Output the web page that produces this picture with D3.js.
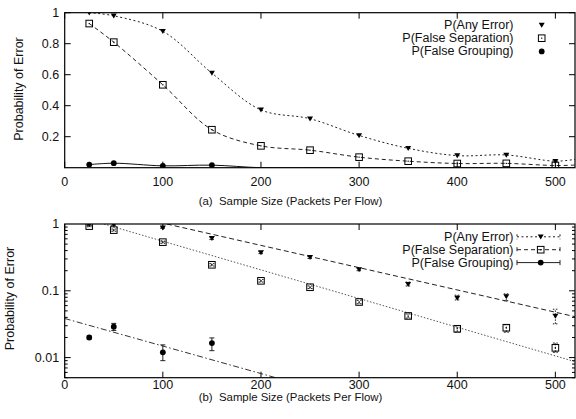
<!DOCTYPE html>
<html>
<head>
<meta charset="utf-8">
<script src="https://cdn.jsdelivr.net/npm/d3@7"></script>
<style>
  html, body { margin: 0; padding: 0; background: #fff; }
  svg { display: block; font-family: "Liberation Sans", Arial, Helvetica, sans-serif; }
</style>
</head>
<body>
<div id="chart"></div>
<script>
// Sample sizes (packets per flow)
var sizes = [25, 50, 100, 150, 200, 250, 300, 350, 400, 450, 500];

// Measured error probabilities
var anyErr     = [1.0, 0.98, 0.88, 0.61, 0.373, 0.316, 0.208, 0.125, 0.078, 0.082, 0.042];
var falseSep   = [0.93, 0.81, 0.535, 0.245, 0.141, 0.113, 0.068, 0.042, 0.027, 0.028, 0.014];
var falseGroup = [0.020, 0.029, 0.012, 0.0165, 0, 0, 0, 0, 0, 0, 0];

// Error bar bounds (plot b)
var anyLo   = [0.98, 0.95, 0.86, 0.585, 0.36, 0.305, 0.2, 0.118, 0.073, 0.071, 0.032];
var anyHi   = [1.02, 1.01, 0.9, 0.635, 0.39, 0.327, 0.217, 0.135, 0.086, 0.09, 0.053];
var sepLo   = [0.91, 0.78, 0.515, 0.235, 0.135, 0.108, 0.064, 0.039, 0.024, 0.024, 0.012];
var sepHi   = [0.95, 0.84, 0.555, 0.255, 0.148, 0.118, 0.072, 0.045, 0.03, 0.031, 0.0165];
var groupLo = [0.019, 0.0255, 0.009, 0.0127, 0, 0, 0, 0, 0, 0, 0];
var groupHi = [0.021, 0.0325, 0.0155, 0.0197, 0, 0, 0, 0, 0, 0, 0];

// where the smoothed curves of plot (a) leave the right border
var tailX = 520;
var anyTail = 0.054, sepTail = 0.017, groupTail = 0;

// exponential fits of plot (b), as end points [size, probability]
var fitAny   = [[104, 1], [520, 0.041]];
var fitSep   = [[40, 1], [520, 0.0087]];
var fitGroup = [[0, 0.0385], [215, 0.005]];

var seriesNames = ["P(Any Error)", "P(False Separation)", "P(False Grouping)"];
var linearTicks = [0.2, 0.4, 0.6, 0.8, 1];
var logTicks = [0.01, 0.1, 1];
var xTicks = [0, 100, 200, 300, 400, 500];

var width = 576, height = 419;
var left = 64.7, right = 575;
var fontSize = 12.5;

var svg = d3.select("#chart").append("svg")
    .attr("width", width)
    .attr("height", height)
    .attr("viewBox", [0, 0, width, height]);

var x = d3.scaleLinear().domain([0, 520]).range([left, right]);

function dashFor(i) {
  return i === 0 ? "2,2.5" : (i === 1 ? "4,3" : null);
}

function drawMarker(g, i, cx, cy) {
  if (i === 0) {
    g.append("path")
      .attr("d", "M" + (cx - 3) + "," + (cy - 2.3) + "L" + (cx + 3) + "," + (cy - 2.3) + "L" + cx + "," + (cy + 2.7) + "Z")
      .attr("fill", "#000");
  } else if (i === 1) {
    g.append("rect")
      .attr("x", cx - 3.3).attr("y", cy - 3.3)
      .attr("width", 6.6).attr("height", 6.6)
      .attr("fill", "none").attr("stroke", "#000").attr("stroke-width", 1);
    g.append("rect")
      .attr("x", cx - 0.6).attr("y", cy - 0.6)
      .attr("width", 1.2).attr("height", 1.2)
      .attr("fill", "#000");
  } else {
    g.append("circle")
      .attr("cx", cx).attr("cy", cy).attr("r", 2.9)
      .attr("fill", "#000");
  }
}

function frame(top, bottom, id, labelOffset) {
  svg.append("clipPath").attr("id", id)
    .append("rect")
      .attr("x", left).attr("y", top)
      .attr("width", right - left).attr("height", bottom - top);

  // x ticks, bottom and mirrored on top
  var gx = svg.append("g").attr("stroke", "#000").attr("stroke-width", 1);
  xTicks.forEach(function(t) {
    gx.append("line").attr("x1", x(t)).attr("x2", x(t)).attr("y1", bottom).attr("y2", bottom - 6);
    gx.append("line").attr("x1", x(t)).attr("x2", x(t)).attr("y1", top).attr("y2", top + 6);
  });
  svg.append("g")
      .attr("font-size", fontSize)
      .attr("text-anchor", "middle")
      .attr("fill", "#111")
    .selectAll("text")
    .data(xTicks)
    .join("text")
      .attr("x", function(d) { return x(d); })
      .attr("y", bottom + labelOffset)
      .attr("dominant-baseline", "central")
      .text(function(d) { return d; });
}

function border(top, bottom) {
  svg.append("rect")
    .attr("x", left).attr("y", top)
    .attr("width", right - left).attr("height", bottom - top)
    .attr("fill", "none").attr("stroke", "#000").attr("stroke-width", 1.2);
}

function yLabel(cx, cy) {
  svg.append("text")
    .attr("transform", "translate(" + cx + "," + cy + ") rotate(-90)")
    .attr("text-anchor", "middle")
    .attr("dominant-baseline", "central")
    .attr("font-size", fontSize)
    .attr("fill", "#111")
    .text("Probability of Error");
}

function xLabel(tag, cy) {
  svg.append("text")
    .attr("x", 290.5)
    .attr("y", cy)
    .attr("text-anchor", "middle")
    .attr("dominant-baseline", "central")
    .attr("font-size", 11.4)
    .attr("fill", "#111")
    .attr("xml:space", "preserve")
    .text(tag + "  Sample Size (Packets Per Flow)");
}

// ---------------- plot (a): linear ----------------
var topA = 12.7, botA = 167.7;
var yA = d3.scaleLinear().domain([0, 1]).range([botA, topA]);

frame(topA, botA, "clipA", 14.3);

var gyA = svg.append("g").attr("stroke", "#000");
linearTicks.forEach(function(t) {
  gyA.append("line").attr("x1", left).attr("x2", left + 6).attr("y1", yA(t)).attr("y2", yA(t));
  gyA.append("line").attr("x1", right).attr("x2", right - 6).attr("y1", yA(t)).attr("y2", yA(t));
});
svg.append("g")
    .attr("font-size", fontSize)
    .attr("text-anchor", "end")
    .attr("fill", "#111")
  .selectAll("text")
  .data(linearTicks)
  .join("text")
    .attr("x", left - 5.5)
    .attr("y", function(d) { return yA(d); })
    .attr("dominant-baseline", "central")
    .text(function(d) { return d; });

var seriesA = [anyErr, falseSep, falseGroup];
var tailsA = [anyTail, sepTail, groupTail];

var lineA = d3.line()
    .x(function(d) { return x(d[0]); })
    .y(function(d) { return yA(d[1]); })
    .curve(d3.curveCatmullRom.alpha(0.5));

var plotA = svg.append("g").attr("clip-path", "url(#clipA)");
seriesA.forEach(function(vals, i) {
  var pts = sizes.map(function(s, k) { return [s, vals[k]]; });
  pts.push([tailX, tailsA[i]]);
  plotA.append("path")
    .attr("d", lineA(pts))
    .attr("fill", "none")
    .attr("stroke", i === 2 ? "#111" : "#222")
    .attr("stroke-width", 1)
    .attr("stroke-dasharray", dashFor(i));
});
seriesA.forEach(function(vals, i) {
  sizes.forEach(function(s, k) {
    if (vals[k] > 0) drawMarker(plotA, i, x(s), yA(vals[k]));
  });
});

border(topA, botA);

// legend (a)
var legA = svg.append("g");
seriesNames.forEach(function(name, i) {
  var ly = 25 + i * 13.2;
  legA.append("text")
    .attr("x", 513.5).attr("y", ly)
    .attr("text-anchor", "end")
    .attr("dominant-baseline", "central")
    .attr("font-size", fontSize)
    .attr("fill", "#111")
    .text(name);
  drawMarker(legA, i, 541.7, ly);
});

yLabel(19, 89);
xLabel("(a)", 200.5);

// ---------------- plot (b): log ----------------
var topB = 224, botB = 377.7;
var yB = d3.scaleLog().domain([0.005, 1]).range([botB, topB]);

frame(topB, botB, "clipB", 7.5);

var gyB = svg.append("g").attr("stroke", "#000");
[0.001, 0.01, 0.1].forEach(function(dec) {
  for (var m = 1; m <= 9; m++) {
    var v = dec * m;
    if (v < 0.005 - 1e-9 || v > 1 + 1e-9) continue;
    var len = m === 1 ? 6 : 3;
    gyB.append("line").attr("x1", left).attr("x2", left + len).attr("y1", yB(v)).attr("y2", yB(v));
    gyB.append("line").attr("x1", right).attr("x2", right - len).attr("y1", yB(v)).attr("y2", yB(v));
  }
});
svg.append("g")
    .attr("font-size", fontSize)
    .attr("text-anchor", "end")
    .attr("fill", "#111")
  .selectAll("text")
  .data(logTicks)
  .join("text")
    .attr("x", left - 5.5)
    .attr("y", function(d) { return yB(d); })
    .attr("dominant-baseline", "central")
    .text(function(d) { return d; });

var plotB = svg.append("g").attr("clip-path", "url(#clipB)");

// fitted lines
var fits = [fitAny, fitSep, fitGroup];
var fitDash = ["5,3", "1.5,1.8", "6,2.5,1.5,2.5"];
var fitColor = ["#222", "#555", "#333"];
fits.forEach(function(f, i) {
  plotB.append("line")
    .attr("x1", x(f[0][0])).attr("y1", yB(f[0][1]))
    .attr("x2", x(f[1][0])).attr("y2", yB(f[1][1]))
    .attr("stroke", fitColor[i])
    .attr("stroke-width", 1)
    .attr("stroke-dasharray", fitDash[i]);
});

// error bars and points
var seriesB = [
  {vals: anyErr, lo: anyLo, hi: anyHi},
  {vals: falseSep, lo: sepLo, hi: sepHi},
  {vals: falseGroup, lo: groupLo, hi: groupHi}
];
seriesB.forEach(function(s, i) {
  sizes.forEach(function(sz, k) {
    if (!(s.vals[k] > 0)) return;
    var cx = x(sz);
    var bars = plotB.append("g")
        .attr("stroke", "#222")
        .attr("stroke-width", 1)
        .attr("stroke-dasharray", i === 2 ? null : (i === 0 ? "1.5,1.5" : "2,1.5"));
    bars.append("line").attr("x1", cx).attr("x2", cx).attr("y1", yB(s.lo[k])).attr("y2", yB(s.hi[k]));
    bars.append("line").attr("x1", cx - 2.5).attr("x2", cx + 2.5).attr("y1", yB(s.lo[k])).attr("y2", yB(s.lo[k]));
    bars.append("line").attr("x1", cx - 2.5).attr("x2", cx + 2.5).attr("y1", yB(s.hi[k])).attr("y2", yB(s.hi[k]));
    drawMarker(plotB, i, cx, yB(s.vals[k]));
  });
});

border(topB, botB);

// legend (b)
var legB = svg.append("g");
seriesNames.forEach(function(name, i) {
  var ly = 236.8 + i * 12.9;
  legB.append("text")
    .attr("x", 513.5).attr("y", ly)
    .attr("text-anchor", "end")
    .attr("dominant-baseline", "central")
    .attr("font-size", fontSize)
    .attr("fill", "#111")
    .text(name);
  var sample = legB.append("g")
      .attr("stroke", "#222")
      .attr("stroke-width", 1)
      .attr("stroke-dasharray", dashFor(i));
  sample.append("line").attr("x1", 517).attr("x2", 560).attr("y1", ly).attr("y2", ly);
  sample.append("line").attr("x1", 517).attr("x2", 517).attr("y1", ly - 2.5).attr("y2", ly + 2.5);
  sample.append("line").attr("x1", 560).attr("x2", 560).attr("y1", ly - 2.5).attr("y2", ly + 2.5);
  drawMarker(legB, i, 540.7, ly);
});

yLabel(9.5, 298.5);
xLabel("(b)", 396.8);
</script>
</body>
</html>
